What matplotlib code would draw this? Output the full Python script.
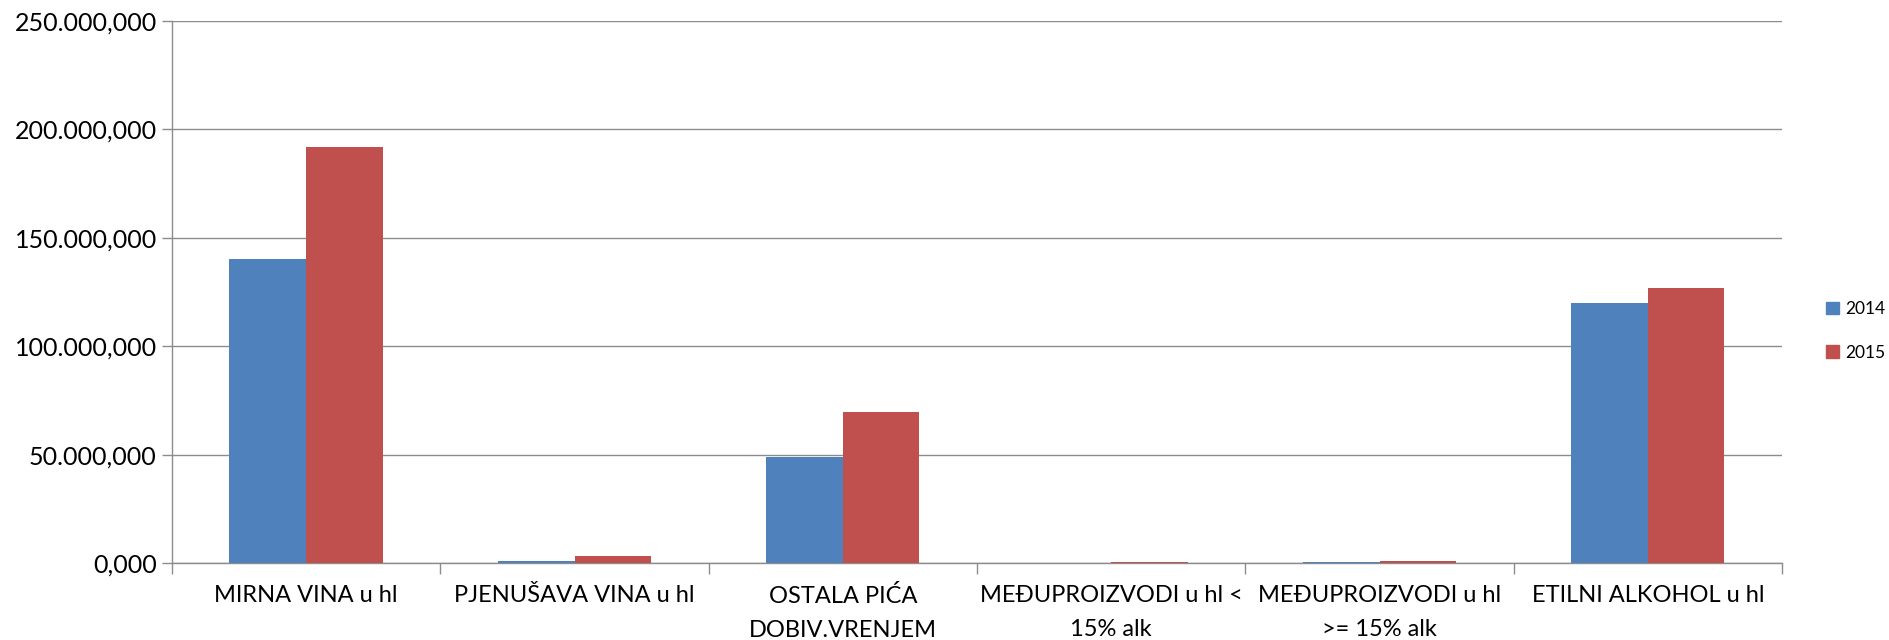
import matplotlib.pyplot as plt
from matplotlib.ticker import FuncFormatter, FixedLocator
from matplotlib.patches import Patch
import numpy as np

categories = ['MIRNA VINA u hl', 'PJENUŠAVA VINA u hl', 'OSTALA PIĆA\nDOBIV.VRENJEM',
              'MEĐUPROIZVODI u hl <\n15% alk', 'MEĐUPROIZVODI u hl\n>= 15% alk', 'ETILNI ALKOHOL u hl']
years = ['2014', '2015']
values_2014 = [140300, 700, 49000, 150, 400, 119700]
values_2015 = [192100, 3100, 69600, 250, 700, 127000]

COLORS = ['#4F81BD', '#C0504D']
GRID = '#8C8C8C'

plt.rcParams['font.family'] = ['Lato', 'DejaVu Sans']

fig = plt.figure(figsize=(18.89, 6.4), dpi=100)
ax = fig.add_axes([172 / 1889, 77 / 640, (1782 - 172) / 1889, (563 - 21) / 640])

x = np.arange(len(categories))
bw = 1 / 3.5  # gap width 150%
ax.bar(x - bw / 2, values_2014, bw, color=COLORS[0], zorder=3)
ax.bar(x + bw / 2, values_2015, bw, color=COLORS[1], zorder=3)

ax.set_xlim(-0.5, len(categories) - 0.5)
ax.set_ylim(0, 250000)
ax.yaxis.set_major_locator(FixedLocator(np.arange(0, 250001, 50000)))


def euro_fmt(v, pos):
    s = f"{v:,.3f}"
    return s.replace(',', 'X').replace('.', ',').replace('X', '.')


ax.yaxis.set_major_formatter(FuncFormatter(euro_fmt))
ax.yaxis.grid(True, color=GRID, linewidth=1, zorder=0)

ax.set_xticks(x)
ax.set_xticklabels(categories, fontsize=17, linespacing=1.75)
ax.set_xticks(np.arange(-0.5, len(categories)), minor=True)
ax.tick_params(axis='x', which='major', length=0, pad=16)
ax.tick_params(axis='x', which='minor', length=8, color=GRID, width=1)
ax.tick_params(axis='y', length=7, color=GRID, width=1, labelsize=18, pad=4)

for side in ['top', 'right']:
    ax.spines[side].set_visible(False)
for side in ['left', 'bottom']:
    ax.spines[side].set_color(GRID)
    ax.spines[side].set_linewidth(1)

handles = [Patch(color=c, label=y) for c, y in zip(COLORS, years)]
fig.legend(handles=handles, loc='center left', bbox_to_anchor=(1826 / 1889, (640 - 331) / 640),
           frameon=False, fontsize=12.5, handlelength=0.75, handleheight=0.75,
           handletextpad=0.35, labelspacing=1.6, borderpad=0, borderaxespad=0)

fig.savefig('out.png', dpi=100)
